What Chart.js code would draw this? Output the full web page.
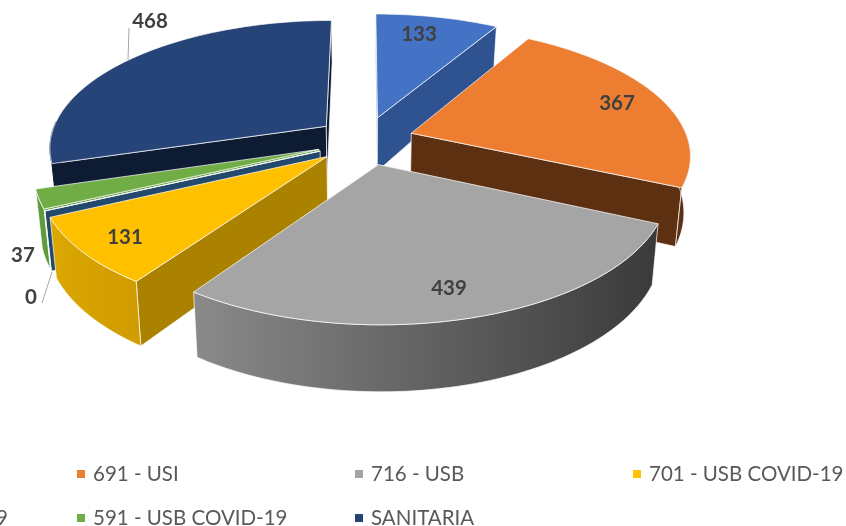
<!DOCTYPE html>
<html>
<head>
<meta charset="utf-8">
<style>
  html, body { margin: 0; padding: 0; background: #fff; overflow: hidden; }
  canvas { display: block; }
</style>
<script src="https://cdn.jsdelivr.net/npm/chart.js@4"></script>
</head>
<body>
<canvas id="chart" width="846" height="526"></canvas>
<script>
// first legend entry is off the picture, second one only shows its last character
const categories = ['', '691 - USI', '716 - USB', '701 - USB COVID-19', '9', '591 - USB COVID-19', 'SANITARIA'];
const values = [133, 367, 439, 131, 0, 37, 468];

const topColors = ['#4472c4', '#ed7d31', '#a5a5a5', '#ffc000', '#5b9bd5', '#70ad47', '#264478'];
const sideColors = ['#2f5290', '#5e3012', '#4a4a4a', '#ab8100', '#234a6c', '#5f9a3c', '#0d1b33'];
const rimColors = [['#2f5290', '#2f5290'], ['#5e3012', '#5e3012'], ['#8a8a8a', '#3a3a3a'],
    ['#dba700', '#d09c00'], ['#234a6c', '#234a6c'], ['#5f9a3c', '#5f9a3c'], ['#0d1b33', '#0d1b33']];

// slices go on the canvas back to front
const drawOrder = [6, 0, 1, 5, 4, 3, 2];

// pie plane seen in perspective
const view = { cx: 365, cy: 140.5, a: 277, b: 126.6, p: 0.157, explodeU: 0.177, explodeV: 0.192 };

function projectTop(u, v) {
    const w = 1 - view.p * v;
    return { x: view.cx + view.a * u / w, y: view.cy + view.b * v / w };
}

function projectBottom(u, v) {
    const t = projectTop(u, v);
    const depth = 39 + 28 * Math.pow(Math.max(0, t.y - 14) / 311, 0.6);
    return { x: view.cx + (t.x - view.cx) * 0.98, y: t.y + depth };
}

function tracePoly(ctx, points) {
    ctx.beginPath();
    points.forEach((pt, i) => i ? ctx.lineTo(pt.x, pt.y) : ctx.moveTo(pt.x, pt.y));
    ctx.closePath();
}

function fillPoly(ctx, points, fill, edge) {
    tracePoly(ctx, points);
    ctx.fillStyle = fill;
    ctx.fill();
    ctx.strokeStyle = edge || 'rgba(255,255,255,0.7)';
    ctx.lineWidth = 1;
    ctx.stroke();
}

function drawSlice(ctx, arc, i) {
    const mid = (arc.startAngle + arc.endAngle) / 2;
    const tipU = view.explodeU * Math.cos(mid);
    const tipV = view.explodeV * Math.sin(mid);
    const angles = [];
    const steps = Math.max(1, Math.ceil((arc.endAngle - arc.startAngle) / 0.02));
    for (let s = 0; s <= steps; s++) {
        angles.push(arc.startAngle + (arc.endAngle - arc.startAngle) * s / steps);
    }
    const tipTop = projectTop(tipU, tipV);
    const tipBottom = projectBottom(tipU, tipV);
    const onTop = ang => projectTop(tipU + Math.cos(ang), tipV + Math.sin(ang));
    const onBottom = ang => projectBottom(tipU + Math.cos(ang), tipV + Math.sin(ang));
    const first = angles[0];
    const last = angles[angles.length - 1];

    // radial walls, only the ones turned to the viewer
    if (-Math.cos(first) > -0.01) {
        fillPoly(ctx, [tipTop, onTop(first), onBottom(first), tipBottom], sideColors[i]);
    }
    if (Math.cos(last) > -0.01) {
        fillPoly(ctx, [tipTop, onTop(last), onBottom(last), tipBottom], sideColors[i]);
    }

    // outer wall, front part
    const front = angles.filter(ang => Math.sin(ang) > -0.05);
    if (front.length > 1) {
        const rimTop = front.map(onTop);
        const rimBottom = front.map(onBottom);
        const xs = rimTop.map(p => p.x);
        const grad = ctx.createLinearGradient(Math.min(...xs), 0, Math.max(...xs), 0);
        grad.addColorStop(0, rimColors[i][0]);
        grad.addColorStop(1, rimColors[i][1]);
        // the navy slice shows no seam between its two dark walls
        fillPoly(ctx, rimTop.concat(rimBottom.reverse()), grad, i === 6 ? rimColors[i][0] : null);
    }

    // top face
    fillPoly(ctx, [tipTop].concat(angles.map(onTop)), topColors[i]);
}

const labelSpots = [[419, 34], [617, 103], [449, 288], [125, 237], [31, 297], [23, 255], [150, 21]];
const leaders = [[[128, 60], [129, 28]], [[52, 272], [42, 303]]];
const legendCols = [-201, 77, 355, 633];
const legendRows = [474, 518];

const pie3d = {
    id: 'pie3d',
    beforeDatasetsDraw(chart) {
        const ctx = chart.ctx;
        const arcs = chart.getDatasetMeta(0).data;
        ctx.save();
        drawOrder.forEach(i => drawSlice(ctx, arcs[i], i));

        ctx.strokeStyle = '#a6a6a6';
        ctx.lineWidth = 1;
        leaders.forEach(l => {
            ctx.beginPath();
            ctx.moveTo(l[0][0], l[0][1]);
            ctx.lineTo(l[1][0], l[1][1]);
            ctx.stroke();
        });

        ctx.font = 'bold 20.5px Lato';
        ctx.fillStyle = '#404040';
        ctx.textAlign = 'center';
        ctx.textBaseline = 'middle';
        values.forEach((val, i) => ctx.fillText(String(val), labelSpots[i][0], labelSpots[i][1]));

        // legend, three columns wide, starts left of the picture
        ctx.font = '20.5px Lato';
        ctx.textAlign = 'left';
        categories.forEach((name, i) => {
            if (!name) return;
            const y = legendRows[i < 4 ? 0 : 1];
            if (name.length === 1) {
                ctx.fillStyle = '#595959';
                ctx.textAlign = 'right';
                ctx.fillText(name, 8, y);
                ctx.textAlign = 'left';
                return;
            }
            const x = legendCols[i < 4 ? i : i - 4];
            ctx.fillStyle = topColors[i];
            ctx.fillRect(x, y - 4, 8, 8);
            ctx.fillStyle = '#595959';
            ctx.fillText(name, x + 16, y);
        });
        ctx.restore();
        return false; // the library's flat arcs are replaced by the drawing above
    }
};

new Chart(document.getElementById('chart').getContext('2d'), {
    type: 'pie',
    data: {
        labels: categories,
        datasets: [{ data: values, backgroundColor: topColors }]
    },
    options: {
        responsive: false,
        animation: false,
        rotation: 0,
        plugins: { legend: { display: false }, tooltip: { enabled: false } }
    },
    plugins: [pie3d]
});
</script>
</body>
</html>
